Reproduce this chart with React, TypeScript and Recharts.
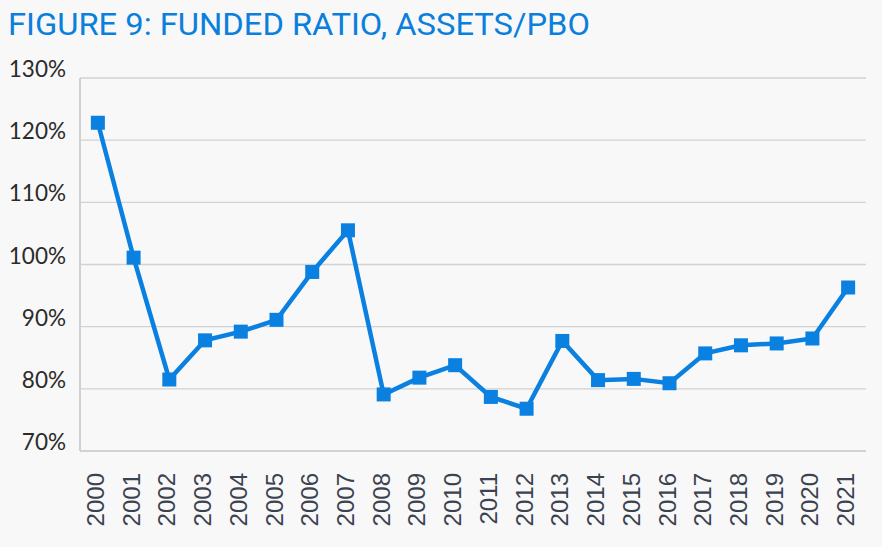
import { LineChart, Line, XAxis, YAxis, CartesianGrid } from 'recharts'

const years = [
  '2000', '2001', '2002', '2003', '2004', '2005', '2006', '2007', '2008', '2009', '2010',
  '2011', '2012', '2013', '2014', '2015', '2016', '2017', '2018', '2019', '2020', '2021',
]
const fundedRatio = [
  122.8, 101.1, 81.5, 87.8, 89.2, 91.1, 98.8, 105.5, 79.1, 81.8, 83.8,
  78.7, 76.8, 87.7, 81.4, 81.6, 80.9, 85.7, 87.0, 87.3, 88.1, 96.3,
]
const yTicks = [70, 80, 90, 100, 110, 120, 130]

const BLUE = '#0a80e0'
const data = years.map((year, i) => ({ year, ratio: fundedRatio[i] }))

// y labels sit a little above their gridline, right aligned
const YTick = (props: any) => {
  const { x, y, payload } = props
  return (
    <text x={x - 6} y={y - 1} textAnchor="end" fill="#2b2b2b"
      fontFamily="Lato, 'Open Sans', sans-serif" fontSize={22.5}>
      {payload.value}%
    </text>
  )
}

// years are rotated, reading bottom to top
const XTick = (props: any) => {
  const { x, y, payload } = props
  const bx = x + 6
  const by = y + 14
  return (
    <text x={bx} y={by} transform={`rotate(-90, ${bx}, ${by})`} textAnchor="end"
      fill="#3b4350" fontFamily="'Liberation Sans', Arial, sans-serif" fontSize={24}>
      {payload.value}
    </text>
  )
}

const Square = (props: any) => {
  const { cx, cy } = props
  return <rect x={cx - 7} y={cy - 7} width={14} height={14} fill={BLUE} />
}

export default function App() {
  return (
    <div style={{ position: 'absolute', left: 0, top: 0, width: 882, height: 547, background: '#f8f8f8', overflow: 'hidden' }}>
      <svg width={882} height={50} style={{ position: 'absolute', left: 0, top: 0 }}>
        <text x={8} y={35} textLength={582} lengthAdjust="spacingAndGlyphs"
          fill="#0b7fdc" fontFamily="Roboto, sans-serif" fontWeight={400} fontSize={31}>
          FIGURE 9: FUNDED RATIO, ASSETS/PBO
        </text>
      </svg>
      <div style={{ position: 'absolute', left: 0, top: 0 }}>
        <LineChart width={882} height={547} data={data}
          margin={{ top: 78, right: 16, bottom: 0, left: 10 }}>
          <CartesianGrid vertical={false} stroke="#d2d2d2" strokeWidth={1.3} />
          <XAxis dataKey="year" scale="band" interval={0} height={96} tickLine={false}
            axisLine={{ stroke: '#cfcfcf', strokeWidth: 1.5 }} tick={<XTick />} />
          <YAxis domain={[70, 130]} ticks={yTicks} width={70} tickLine={false}
            axisLine={{ stroke: '#d0d0d0', strokeWidth: 2 }} tick={<YTick />} />
          <Line type="linear" dataKey="ratio" stroke={BLUE} strokeWidth={4.5}
            dot={<Square />} activeDot={false} isAnimationActive={false} />
        </LineChart>
      </div>
    </div>
  )
}
